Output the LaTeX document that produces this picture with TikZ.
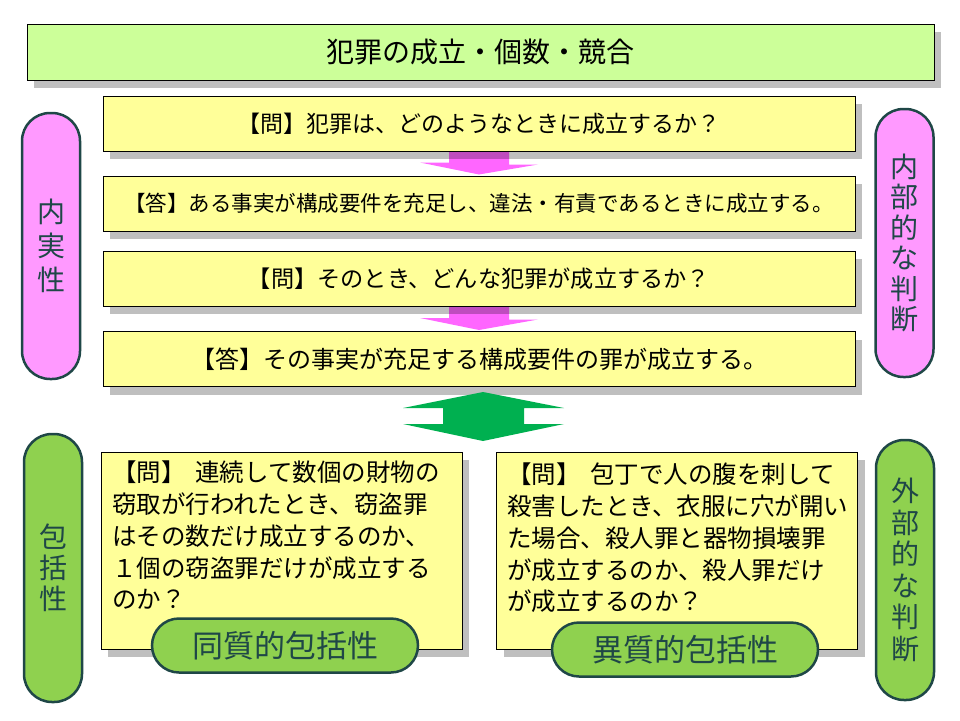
\documentclass[tikz,border=0pt]{standalone}
\usepackage{fontspec}
\setmainfont{Noto Sans CJK JP}
\usetikzlibrary{shadows,backgrounds,calc}
\definecolor{ylw}{HTML}{FFFF99}
\definecolor{ttl}{HTML}{CCFF99}
\definecolor{pnk}{HTML}{FF99FF}
\definecolor{pnkar}{HTML}{FF66FF}
\definecolor{grar}{HTML}{00B050}
\definecolor{grp}{HTML}{8FD14F}
\definecolor{slate}{HTML}{1F4747}
\begin{document}
\begin{tikzpicture}[x=1pt,y=-1pt,
  shd/.style={drop shadow={shadow xshift=7pt,shadow yshift=-8pt,fill=black,opacity=0.25}},
  titlebox/.style={draw=black,line width=1pt,fill=ttl,shd,inner sep=0,minimum width=907pt,minimum height=56pt,font=\fontsize{28}{32}\selectfont},
  qbox/.style={draw=black,line width=1pt,fill=ylw,shd,inner sep=0,minimum width=752pt,minimum height=55pt},
  bbox/.style={draw=black,line width=1pt,fill=ylw,shd,inner sep=0,minimum width=361pt,minimum height=197pt},
  btext/.style={anchor=north west,inner sep=0,align=left,font=\fontsize{24.5}{31.75}\selectfont},
  pill/.style={draw=slate,line width=2.5pt,rounded corners=28pt,inner sep=0,minimum width=58pt,text=slate,align=center},
  pinkpill/.style={pill,fill=pnk},
  greenpill/.style={pill,fill=grp},
  tag/.style={draw=slate,line width=2.5pt,fill=grp,rounded corners=27pt,inner sep=0,minimum width=266pt,minimum height=54pt,text=slate,font=\fontsize{31}{34}\selectfont},
  pinkarrow/.style={fill=pnkar},
  greenarrow/.style={fill=grar}
]
\useasboundingbox (0,0) rectangle (960,720);

% title
\node[titlebox] (title) at (480.5,52) {犯罪の成立・個数・競合};

% question / answer boxes
\node[qbox,font=\fontsize{23}{28}\selectfont] (q1) at (479,123.5) {【問】犯罪は、どのようなときに成立するか？};
\node[qbox,font=\fontsize{21.5}{26}\selectfont] (a1) at (479,203.5) {【答】ある事実が構成要件を充足し、違法・有責であるときに成立する。};
\node[qbox,font=\fontsize{23.2}{28}\selectfont] (q2) at (479,278.5) {【問】そのとき、どんな犯罪が成立するか？};
\node[qbox,font=\fontsize{24}{28}\selectfont] (a2) at (479,359) {【答】その事実が充足する構成要件の罪が成立する。};

% pink arrows (behind boxes and shadows)
\begin{pgfonlayer}{background}
\fill[pinkarrow] ([xshift=-30pt]q1.south) -- ([xshift=30pt]q1.south) -- ++(0,13) -- ++(29,0)
  -- ([yshift=1pt]a1.north) -- ($([yshift=1pt]a1.north)+(-59,-12)$) -- ++(29,0) -- cycle;
\fill[pinkarrow] ([xshift=-30pt]q2.south) -- ([xshift=30pt]q2.south) -- ++(0,13) -- ++(29,0)
  -- ([yshift=1pt]a2.north) -- ($([yshift=1pt]a2.north)+(-59,-12)$) -- ++(29,0) -- cycle;
\end{pgfonlayer}

% side pills
\node[pinkpill,minimum height=266pt,font=\fontsize{28}{34}\selectfont] (naijitsu) at (51,246) {内\\実\\性};
\node[pinkpill,minimum height=268pt,font=\fontsize{28}{30.5}\selectfont] (naibu) at (904.5,243) {内\\部\\的\\な\\判\\断};
\node[greenpill,minimum height=268pt,font=\fontsize{28}{31}\selectfont] (hokatsu) at (53,568) {包\\括\\性};
\node[greenpill,minimum height=260pt,font=\fontsize{28}{31.5}\selectfont] (gaibu) at (905,570) {外\\部\\的\\な\\判\\断};

% bottom boxes
\node[bbox] (lbox) at (281.5,550.5) {};
\node[bbox] (rbox) at (677,550.5) {};
\node[btext] (ltext) at (112,461) {【問】\hspace{0.4em}連続して数個の財物の\\窃取が行われたとき、窃盗罪\\はその数だけ成立するのか、\\１個の窃盗罪だけが成立する\\のか？};
\node[btext] (rtext) at (507,463) {【問】\hspace{0.4em}包丁で人の腹を刺して\\殺害したとき、衣服に穴が開い\\た場合、殺人罪と器物損壊罪\\が成立するのか、殺人罪だけ\\が成立するのか？};

% tags
\node[tag] (doshitsu) at (285,645.5) {同質的包括性};
\node[tag] (ishitsu) at (685,649.5) {異質的包括性};

% green double arrow
\coordinate (gtop) at (483,392);
\coordinate (gbot) at (483,441);
\fill[greenarrow] (gtop) -- ++(81,16) -- ++(-40,0) -- ++(0,16) -- ++(40,0) -- (gbot)
  -- ++(-80,-17) -- ++(40,0) -- ++(0,-16) -- ++(-40,0) -- cycle;
\end{tikzpicture}
\end{document}
